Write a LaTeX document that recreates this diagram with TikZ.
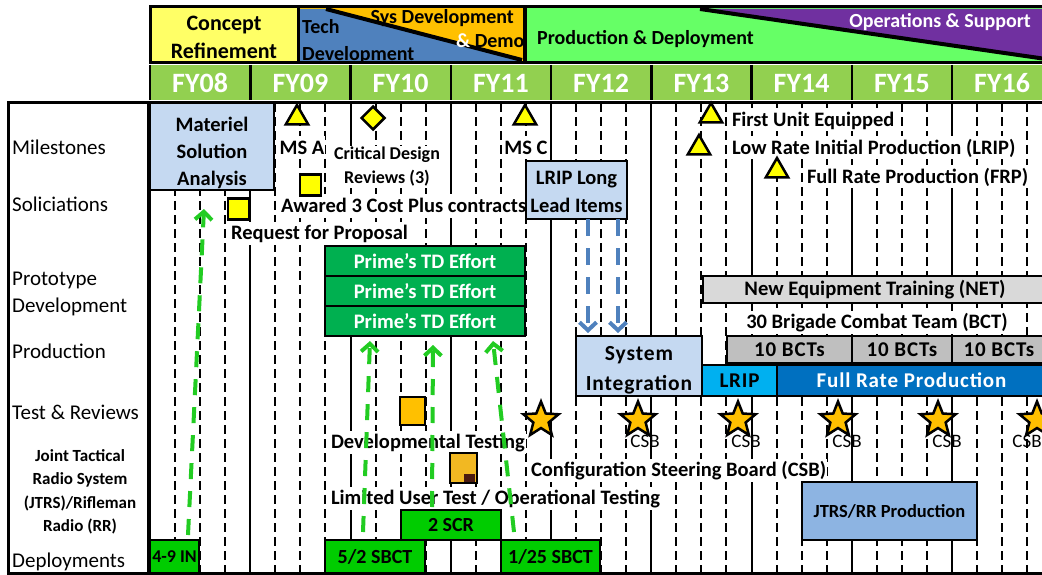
\documentclass[tikz,border=0pt]{standalone}
\usepackage{fontspec}
\setmainfont{Carlito}
\usetikzlibrary{shapes.geometric,arrows.meta}
\definecolor{cryellow}{HTML}{FFFF66}
\definecolor{techblue}{HTML}{4F81BD}
\definecolor{sysorange}{HTML}{FFC000}
\definecolor{pdgreen}{HTML}{66FF66}
\definecolor{opspurple}{HTML}{7030A0}
\definecolor{fygreen}{HTML}{92D050}
\definecolor{lightblue}{HTML}{C5D9F1}
\definecolor{primegreen}{HTML}{00B050}
\definecolor{depgreen}{HTML}{00CC00}
\definecolor{arrgreen}{HTML}{22CC22}
\definecolor{arrblue}{HTML}{4F81BD}
\definecolor{netgray}{HTML}{D9D9D9}
\definecolor{bctgray}{HTML}{BFBFBF}
\definecolor{lripblue}{HTML}{00B0F0}
\definecolor{frpblue}{HTML}{0070C0}
\definecolor{jtrsblue}{HTML}{8DB4E2}
\definecolor{msyellow}{HTML}{FFFF00}
\definecolor{stargold}{HTML}{FFC000}
\definecolor{lutorange}{HTML}{F2B822}
\definecolor{lutdark}{HTML}{4A1A10}
\newfontfamily\spacedfont[LetterSpace=4]{Carlito}
\begin{document}
\begin{tikzpicture}[x=1pt,y=-1pt,
  bx/.style={draw=black,line width=2.5pt,inner sep=0pt,outer sep=0pt,align=center,font=\bfseries\fontsize{20.6}{27}\selectfont},
  sbx/.style={bx,font=\spacedfont\bfseries\fontsize{21}{27}\selectfont},
  bxt/.style={inner sep=0pt,outer sep=0pt,align=center,font=\bfseries\fontsize{20.5}{27}\selectfont},
  lab/.style={inner sep=1pt,outer sep=0pt,fill=white,font=\bfseries\fontsize{20.5}{24}\selectfont,text height=17pt,text depth=4pt},
  rowlab/.style={anchor=west,inner sep=0pt,font=\fontsize{21}{24}\selectfont,text height=17.5pt,text depth=4pt},
  fy/.style={text=white,inner sep=0pt,font=\bfseries\fontsize{28}{30}\selectfont,text height=22pt,text depth=4pt},
  tri/.style={regular polygon,regular polygon sides=3,draw=black,line width=2.5pt,fill=msyellow,minimum size=26pt,inner sep=0pt},
  csbstar/.style={star,star points=5,star point ratio=2.3,draw=black,line width=2.5pt,fill=stargold,minimum size=37pt,inner sep=0pt},
  sq/.style={draw=black,line width=2.5pt,fill=msyellow,minimum size=21pt,inner sep=0pt},
  gline/.style={line width=2pt},
  gdash/.style={line width=2pt,dash pattern=on 9pt off 5pt},
  garrow/.style={draw=arrgreen,line width=4pt,dash pattern=on 16pt off 12pt,-{Straight Barb[length=8pt,width=17pt]}},
  barrow/.style={draw=arrblue,line width=4pt,dash pattern=on 17pt off 12pt,-{Straight Barb[length=8pt,width=17pt]}},
  csb/.style={inner sep=0pt,font=\fontsize{19}{20}\selectfont,text height=14pt,text depth=1pt}
]
\useasboundingbox (0,0) rectangle (1042,575);
\fill[white] (0,0) rectangle (1042,575);

% ---------- grid ----------
\foreach \k in {0,...,8}{
  \pgfmathsetmacro\xx{150+100.25*\k}
  \draw[gline] (\xx,103) -- (\xx,573);
  \foreach \q in {1,2,3}{
    \pgfmathsetmacro\xq{\xx+25.06*\q}
    \draw[gdash] (\xq,103) -- (\xq,573);
  }
}

% ---------- header: phases ----------
\fill[cryellow] (150,7) rectangle (298,63);
\node[inner sep=0pt,align=center,font=\bfseries\fontsize{22}{28}\selectfont] (cr) at (224,37) {Concept\\Refinement};
\draw[line width=3pt] (150,7) rectangle (298,63);

\fill[sysorange] (298,7) rectangle (524,63);
\fill[techblue] (300,9) -- (326,9) -- (522,61) -- (300,61) -- cycle;
\draw[line width=4pt] (326,9) -- (522,60);
\begin{scope}
  \clip (299,8) rectangle (523,62);
  \node[anchor=west,inner sep=0pt,font=\bfseries\fontsize{20}{24}\selectfont,text height=17pt,text depth=4pt] (tech) at (302,27) {Tech};
  \node[anchor=west,inner sep=0pt,font=\bfseries\fontsize{20}{24}\selectfont,text height=17pt,text depth=4pt] (techdev) at (302,54) {Development};
  \node[anchor=east,inner sep=0pt,font=\bfseries\fontsize{20}{24}\selectfont,text height=17pt,text depth=4pt] (sysdev) at (514,17) {Sys Development};
  \node[anchor=west,inner sep=0pt,font=\bfseries\fontsize{20}{24}\selectfont,text height=17pt,text depth=4pt] (demo) at (456,41) {\textcolor{white}{\&} Demo};
\end{scope}
\draw[line width=3pt] (298,7) rectangle (524,63);

\fill[pdgreen] (524,7) rectangle (1046,63);
\fill[opspurple] (700,9) -- (1046,9) -- (1046,59) -- cycle;
\draw[line width=4pt] (700,9) -- (1046,59);
\draw[line width=3pt] (1046,7) -- (525,7) -- (525,63) -- (1046,63);
\node[anchor=west,inner sep=0pt,font=\bfseries\fontsize{20}{24}\selectfont,text height=17pt,text depth=4pt] (pd) at (537,38) {Production \& Deployment};
\node[anchor=east,inner sep=0pt,text=white,font=\bfseries\fontsize{20}{24}\selectfont,text height=17pt,text depth=4pt] (ops) at (1031,21) {Operations \& Support};

% ---------- header: fiscal years ----------
\fill[fygreen] (150,65) rectangle (1046,100);
\foreach \k in {0,...,8}{
  \pgfmathsetmacro\xx{150+100.25*\k}
  \draw[line width=2.5pt] (\xx,65) -- (\xx,100);
}
\node[fy] (fy08) at (200.1,84) {FY08};
\node[fy] (fy09) at (300.4,84) {FY09};
\node[fy] (fy10) at (400.6,84) {FY10};
\node[fy] (fy11) at (500.9,84) {FY11};
\node[fy] (fy12) at (601.1,84) {FY12};
\node[fy] (fy13) at (701.4,84) {FY13};
\node[fy] (fy14) at (801.6,84) {FY14};
\node[fy] (fy15) at (901.9,84) {FY15};
\node[fy] (fy16) at (1002.1,84) {FY16};

% ---------- table frame ----------
\fill[white] (9,104) rectangle (147,572);
\draw[line width=3pt] (1046,103) -- (8,103) -- (8,573) -- (1046,573);
\draw[line width=3pt] (148,103) -- (148,573);

% ---------- row labels ----------
\node[rowlab] (rmil) at (12,148) {Milestones};
\node[rowlab] (rsol) at (12,205) {Soliciations};
\node[rowlab] (rpro1) at (12,279) {Prototype};
\node[rowlab] (rpro2) at (12,306) {Development};
\node[rowlab] (rprod) at (12,352) {Production};
\node[rowlab] (rtest) at (12,413) {Test \& Reviews};
\node[inner sep=0pt,align=center,font=\bfseries\fontsize{17}{23.5}\selectfont] (rjtrs) at (80,492) {Joint Tactical\\Radio System\\(JTRS)/Rifleman\\Radio (RR)};
\node[rowlab] (rdep) at (12,561) {Deployments};

% ---------- labels with white backing ----------
\node[lab] (lmsa) at (302,148) {MS A};
\node[lab,align=center,font=\bfseries\fontsize{18}{24}\selectfont,text height=,text depth=] (lcdr) at (387,167) {Critical Design\\Reviews (3)};
\node[lab,anchor=west] (lawd) at (280,206) {Awared 3 Cost Plus contracts};
\node[lab,anchor=west] (lrfp) at (230,233) {Request for Proposal};
\node[lab] (lmsc) at (526,148) {MS C};
\node[lab,anchor=west] (lfue) at (731,120) {First Unit Equipped};
\node[lab,anchor=west] (llrip) at (731,148) {Low Rate Initial Production (LRIP)};
\node[lab,anchor=west] (lfrp) at (806,177) {Full Rate Production (FRP)};
\node[lab,anchor=west] (ldt) at (330,442) {Developmental Testing};
\node[lab,anchor=west] (lcsb) at (530,470) {Configuration Steering Board (CSB)};
\node[lab,anchor=west] (llut) at (330,498) {Limited User Test / Operational Testing};
\node[lab] (lbct) at (877,322) {30 Brigade Combat Team (BCT)};

% ---------- milestone symbols ----------
\node[tri] (msa) at (297,118) {};
\node[tri] (msc) at (525,118) {};
\node[tri] (mfue) at (711,116) {};
\node[tri] (mlrip) at (699,148) {};
\node[tri] (mfrp) at (777,171) {};
\node[diamond,draw=black,line width=2.5pt,fill=msyellow,minimum width=24pt,minimum height=24pt,inner sep=0pt] (mcdr) at (373,118) {};
\node[sq] (sawd) at (310.5,185) {};
\node[sq] (srfp) at (238.5,209) {};
\node[draw=black,line width=1.5pt,fill=stargold,minimum width=25pt,minimum height=28pt,inner sep=0pt] (sdt) at (412.5,411) {};
\node[draw=black,line width=2.5pt,fill=lutorange,minimum width=27pt,minimum height=30pt,inner sep=0pt] (slut) at (463.5,468) {};
\fill[lutdark] (464,474) rectangle (475,482);

% ---------- boxes ----------
\node[bx,fill=lightblue,minimum width=124pt,minimum height=87pt] (msabox) at (212,146.5) {};
\node[bxt] (msatxt) at ([yshift=-6pt]msabox.center) {Materiel\\Solution\\Analysis};
\node[bx,fill=lightblue,minimum width=101pt,minimum height=58pt] (lll) at (576.5,190) {};
\node[bxt,font=\bfseries\fontsize{20.5}{28}\selectfont] (llltxt) at ([yshift=-2pt]lll.center) {LRIP Long\\Lead Items};
\node[bx,fill=primegreen,text=white,minimum width=200pt,minimum height=30pt] (p1) at (425,261) {Prime's TD Effort};
\node[bx,fill=primegreen,text=white,minimum width=200pt,minimum height=30pt] (p2) at (425,291) {Prime's TD Effort};
\node[bx,fill=primegreen,text=white,minimum width=200pt,minimum height=30pt] (p3) at (425,321) {Prime's TD Effort};
\node[bx,fill=lightblue,minimum width=126pt,minimum height=60pt] (si) at (639,366) {};
\node[bxt,font=\spacedfont\bfseries\fontsize{21.5}{30}\selectfont] (sitxt) at ([yshift=-4pt]si.center) {System\\Integration};
\node[bx,fill=netgray,minimum width=344pt,minimum height=27pt] (net) at (875,289.5) {New Equipment Training (NET)};
\node[sbx,fill=bctgray,minimum width=125pt,minimum height=27pt] (b1) at (789.5,349.5) {10 BCTs};
\node[sbx,fill=bctgray,minimum width=100pt,minimum height=27pt] (b2) at (902,349.5) {10 BCTs};
\node[sbx,fill=bctgray,minimum width=94pt,minimum height=27pt] (b3) at (999,349.5) {10 BCTs};
\node[sbx,fill=lripblue,minimum width=75pt,minimum height=31pt] (lrip) at (739.5,380.5) {LRIP};
\node[sbx,fill=frpblue,text=white,minimum width=269pt,minimum height=31pt] (frp) at (911.5,380.5) {Full Rate Production};
\node[bx,fill=jtrsblue,minimum width=175pt,minimum height=58pt,font=\bfseries\fontsize{18.5}{22}\selectfont] (jtrs) at (889.5,511) {JTRS/RR Production};
\node[bx,fill=depgreen,minimum width=49pt,minimum height=33pt,font=\bfseries\fontsize{18}{22}\selectfont] (d49) at (174.5,556.5) {4-9 IN};
\node[bx,fill=depgreen,minimum width=100pt,minimum height=33pt,font=\bfseries\fontsize{20}{22}\selectfont] (d52) at (375,556.5) {5/2 SBCT};
\node[bx,fill=depgreen,minimum width=100pt,minimum height=30pt,font=\bfseries\fontsize{20}{22}\selectfont] (scr) at (451,525) {2 SCR};
\node[bx,fill=depgreen,minimum width=99pt,minimum height=33pt,font=\bfseries\fontsize{20}{22}\selectfont] (d125) at (550.5,556.5) {1/25 SBCT};

% ---------- CSB ----------
\node[csb] (csb1) at (645,441) {CSB};
\node[csb] (csb2) at (746,441) {CSB};
\node[csb] (csb3) at (847,441) {CSB};
\node[csb] (csb4) at (947,441) {CSB};
\node[csb] (csb5) at (1027,441) {CSB};
\node[csbstar] (st0) at (541,420) {};
\node[csbstar] (st1) at (638,420) {};
\node[csbstar] (st2) at (738,420) {};
\node[csbstar] (st3) at (838,420) {};
\node[csbstar] (st4) at (938,420) {};
\node[csbstar] (st5) at (1037,420) {};

% ---------- arrows ----------
\coordinate (t1) at (204,209);
\draw[garrow] ([xshift=13.5pt,yshift=5pt]d49.north) -- (t1);
\draw[garrow] ([xshift=-12pt,yshift=8pt]d52.north) -- ([xshift=-55pt,yshift=-5pt]p3.south);
\draw[garrow] ([xshift=-19pt,yshift=3pt]scr.north) -- ([xshift=8pt,yshift=-9pt]p3.south);
\draw[garrow] ([xshift=-36.5pt,yshift=8pt]d125.north) -- ([xshift=68pt,yshift=-5pt]p3.south);
\draw[barrow] ([xshift=11.5pt]lll.south) -- ([xshift=-51pt,yshift=3pt]si.north);
\draw[barrow] ([xshift=41.5pt]lll.south) -- ([xshift=-21pt,yshift=3pt]si.north);
\end{tikzpicture}
\end{document}
